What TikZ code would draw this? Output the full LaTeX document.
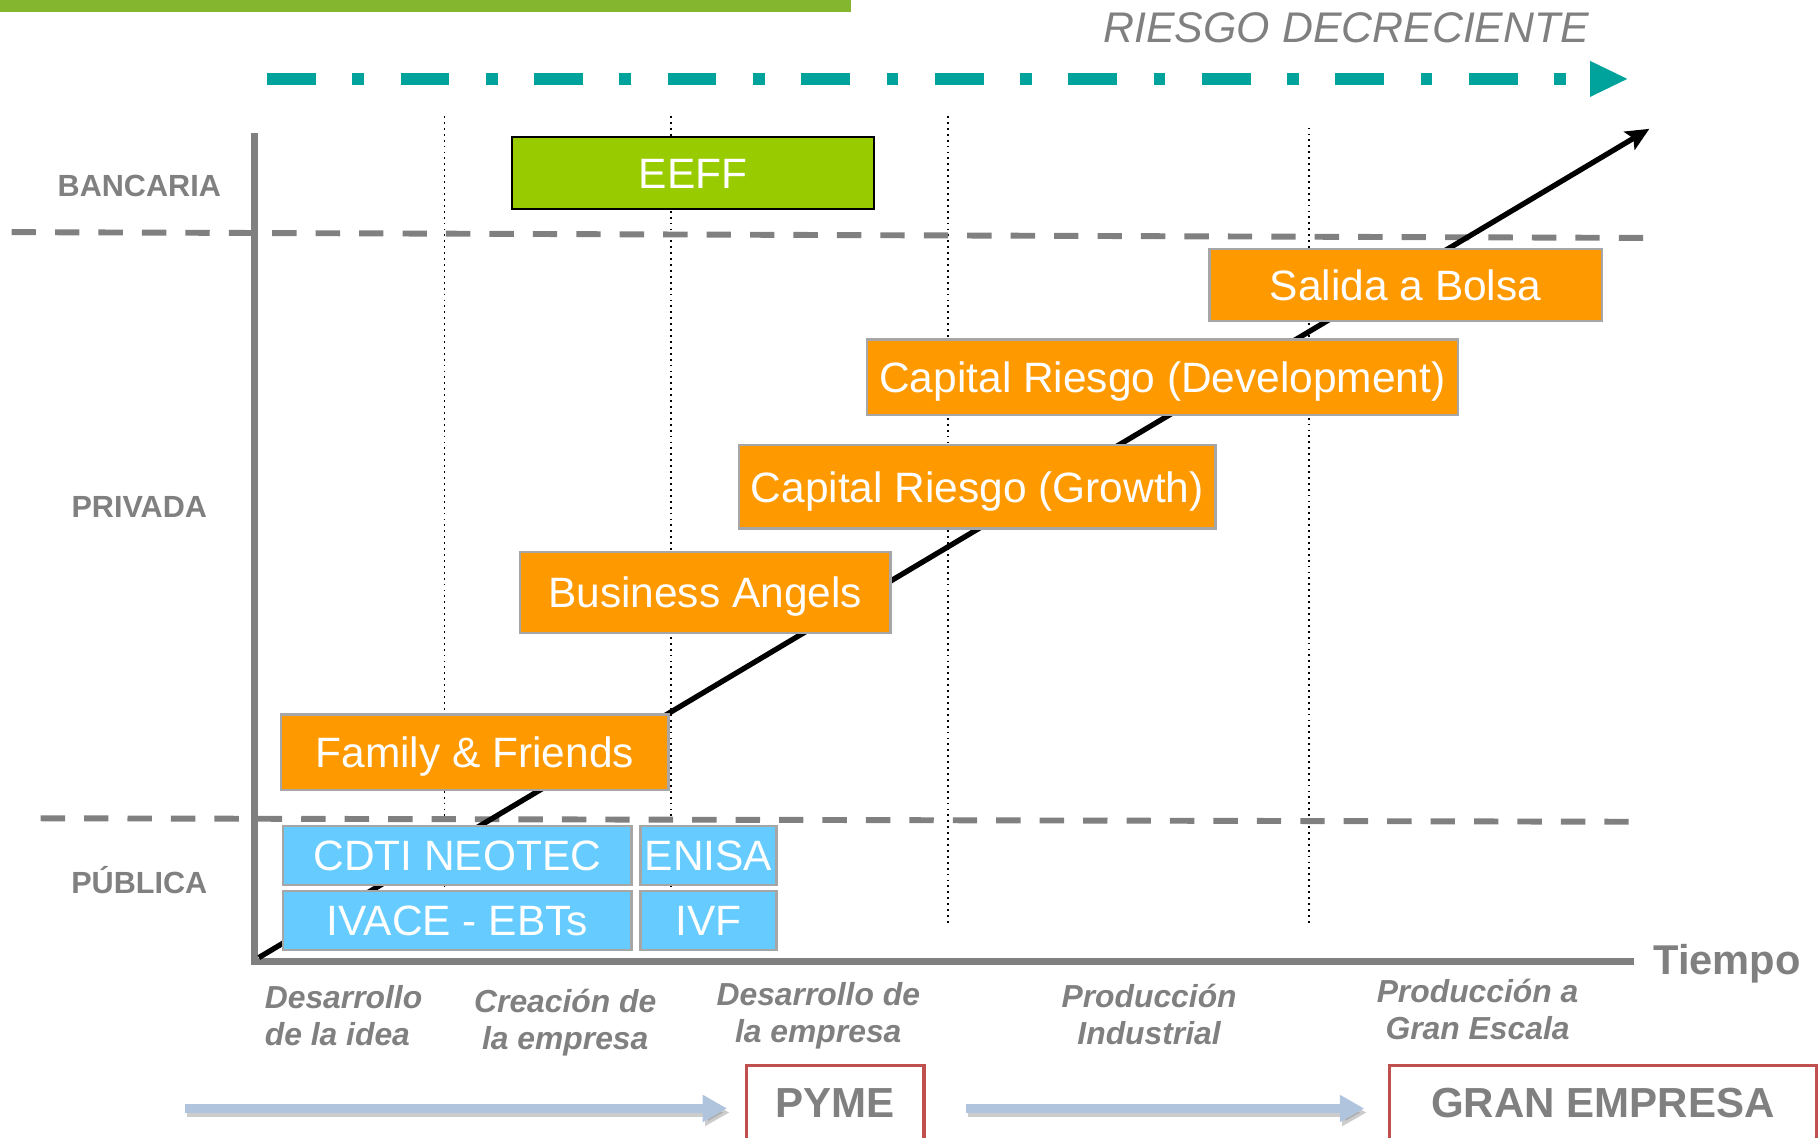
\documentclass[tikz,border=0pt]{standalone}
\usepackage{fontspec}
\setmainfont{Liberation Sans}
\usetikzlibrary{arrows.meta}
%
\definecolor{naranja}{RGB}{255,153,0}
\definecolor{celeste}{RGB}{102,204,255}
\definecolor{verdeeeff}{RGB}{153,204,0}
\definecolor{verdebarra}{RGB}{132,182,48}
\definecolor{turquesa}{RGB}{0,163,155}
\definecolor{gris}{RGB}{128,128,128}
\definecolor{grisborde}{RGB}{166,166,166}
\definecolor{rojo}{RGB}{192,80,77}
\definecolor{azulflecha}{RGB}{176,196,222}
%
\tikzset{
  caja/.style={draw=grisborde, line width=0.6pt, text=white, inner sep=0pt,
    text height=7.4pt, text depth=0pt, font=\fontsize{10.4}{12}\selectfont},
  privada/.style={caja, fill=naranja},
  publica/.style={caja, fill=celeste},
  sector/.style={text=gris, font=\fontsize{7.5}{9}\selectfont\bfseries},
  etapa/.style={text=gris, align=center, font=\fontsize{7.8}{9.1}\selectfont\bfseries\itshape},
  empresa/.style={draw=rojo, line width=0.85pt, text=gris, inner sep=0pt,
    text height=7.4pt, text depth=0pt, font=\fontsize{10.3}{12}\selectfont\bfseries},
  guion/.style={gris, line width=1.45pt, dash pattern=on 0.21cm off 0.164cm},
  divisor/.style={black, line width=0.45pt, densely dotted},
  eje/.style={gris, line width=1.7pt},
  riesgo/.style={turquesa, line width=2.85pt,
    dash pattern=on 0.42cm off 0.315cm on 0.1cm off 0.315cm},
  flechaazul/.style={azulflecha, line width=2.3pt, -{Triangle[length=0.21cm,width=0.22cm]}},
  sombra/.style={black!50, opacity=0.4, line width=2.3pt,
    -{Triangle[length=0.21cm,width=0.22cm]}, transform canvas={shift={(0.02cm,-0.035cm)}}},
}
%
\begin{document}
\begin{tikzpicture}[x=0.01cm, y=-0.01cm]
\useasboundingbox (0,0) rectangle (1568,980);
%
% barra superior y riesgo decreciente
\fill[verdebarra] (0,0) rectangle (733,10);
\node[text=gris, font=\fontsize{10.5}{12}\selectfont\itshape] (riesgo) at (1160,24) {RIESGO DECRECIENTE};
\coordinate (riesgo-ini) at (230,68);
\coordinate (riesgo-fin) at (1352,68);
\draw[riesgo] (riesgo-ini) -- (riesgo-fin);
\fill[turquesa] (1370,52.5) -- (1402,68) -- (1370,83.5) -- cycle;
%
% divisiones de etapas
\draw[divisor] (383,100) -- (383,815);
\draw[divisor] (578,100) -- (578,815);
\draw[divisor] (817,100) -- (817,798);
\draw[divisor] (1128,110) -- (1128,798);
%
% bancaria / privada / publica
\draw[guion] (10,200) -- (1416,205);
\draw[guion] (35,705) -- (1410,708);
%
% ejes
\coordinate (o) at (219,828);
\coordinate (ejey) at (219,115);
\coordinate (ejex) at (1408,828);
\draw[eje] (ejey) -- (o) -- (ejex);
\node[text=gris, font=\fontsize{10.2}{12}\selectfont\bfseries] (tiempo) at (1488,830) {Tiempo};
%
% diagonal
\coordinate (origen) at (223,825);
\coordinate (fin) at (1421,111);
\draw[line width=1.3pt, -{Stealth[length=0.2cm,width=0.18cm,inset=0.04cm]}] (origen) to (fin);
%
% fuentes de financiacion
\node[caja, fill=verdeeeff, draw=black, minimum width=3.12cm, minimum height=0.62cm] (eeff) at (597,149) {EEFF};
\node[privada, minimum width=3.38cm, minimum height=0.62cm] (bolsa) at (1211,245.5) {Salida a Bolsa};
\node[privada, minimum width=5.09cm, minimum height=0.65cm] (development) at (1001.5,325) {Capital Riesgo (Development)};
\node[privada, minimum width=4.10cm, minimum height=0.72cm] (growth) at (842,419.5) {Capital Riesgo (Growth)};
\node[privada, minimum width=3.19cm, minimum height=0.70cm] (angels) at (607.5,510.5) {Business Angels};
\node[privada, minimum width=3.34cm, minimum height=0.65cm] (familia) at (409,648) {Family \& Friends};
\node[publica, minimum width=3.00cm, minimum height=0.51cm] (cdti) at (394,737) {CDTI NEOTEC};
\node[publica, minimum width=1.17cm, minimum height=0.51cm] (enisa) at (610.5,737) {ENISA};
\node[publica, minimum width=3.00cm, minimum height=0.51cm] (ivace) at (394,793) {IVACE - EBTs};
\node[publica, minimum width=1.17cm, minimum height=0.51cm] (ivf) at (610.5,793) {IVF};
%
% sectores
\node[sector] (bancaria) at (120,160) {BANCARIA};
\node[sector] (privada) at (120,437) {PRIVADA};
\node[sector] (publica) at (120,758) {PÚBLICA};
%
% etapas
\node[etapa, align=left] (idea) at (296,875) {Desarrollo\\de la idea};
\node[etapa] (creacion) at (487,881) {Creación de\\la empresa};
\node[etapa] (desarrollo) at (705,875) {Desarrollo de\\la empresa};
\node[etapa] (industrial) at (990,874) {Producción\\Industrial};
\node[etapa] (escala) at (1273,870) {Producción a\\Gran Escala};
%
% pyme -> gran empresa
\node[empresa, minimum width=1.53cm, minimum height=0.64cm] (pyme) at (719.5,950) {PYME};
\node[empresa, minimum width=3.68cm, minimum height=0.64cm] (gran) at (1381,950) {GRAN EMPRESA};
\coordinate (ini1) at (159,955);
\coordinate (ini2) at (832,955);
\draw[sombra, shorten >=0.15cm] (ini1) -- (ini1 -| pyme.west);
\draw[flechaazul, shorten >=0.15cm] (ini1) -- (ini1 -| pyme.west);
\draw[sombra, shorten >=0.2cm] (ini2) -- (ini2 -| gran.west);
\draw[flechaazul, shorten >=0.2cm] (ini2) -- (ini2 -| gran.west);
%
\end{tikzpicture}
\end{document}
